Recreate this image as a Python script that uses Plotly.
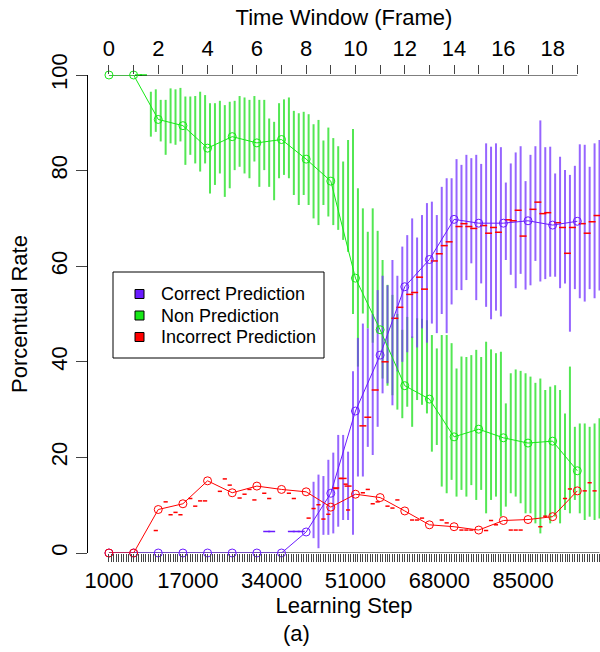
import numpy as np
import plotly.graph_objects as go

# ---------------- data ----------------
frames = list(range(20))
correct = [0, 0, 0, 0, 0, 0, 0, 0, 4.4, 12.5, 29.7, 41.4, 55.7, 61.4, 69.8, 69.0, 69.0, 69.5, 68.6, 69.4]
non_pred = [100, 100, 90.7, 89.4, 84.7, 87.1, 85.8, 86.5, 82.4, 77.8, 57.5, 46.7, 35.0, 32.2, 24.3, 25.9, 24.1, 23.0, 23.4, 17.2]
incorrect = [0, 0, 9.1, 10.3, 15.1, 12.6, 14.0, 13.3, 12.8, 9.6, 12.3, 11.6, 8.8, 5.9, 5.5, 4.8, 6.8, 7.0, 7.6, 13.0]

# spread bars of the non prediction rate (frame 1.7 .. 19.9 every 0.2 frame)
non_lo = [87.1, 88.1, 86.1, 83.3, 85.7, 85.4, 86.1, 81.2, 83.3, 81.5, 79.8, 81.5, 75.2, 77.0, 79.4, 74.5, 76.3,
          80.1, 80.8, 79.4, 78.4, 81.9, 76.6, 80.1, 76.6, 73.8, 78.4, 79.1, 78.4, 74.9, 72.8, 74.9, 72.8, 70.0,
          68.6, 72.8, 70.4, 68.6, 67.6, 65.5, 63.0, 50.0,
          39.0, 50.1, 47.0, 44.0, 46.0, 36.5, 35.0, 33.0, 30.0, 28.2, 30.6, 26.4, 32.0, 31.0, 29.2, 21.2, 22.6,
          13.9, 12.5, 15.3, 11.8, 13.2, 11.8, 14.2, 11.1, 13.2, 8.3, 11.1, 11.8, 7.6, 9.7, 12.5, 11.8, 10.4,
          8.3, 8.3, 6.2, 4.1, 7.6, 6.2, 7.6, 6.2, 9.0, 8.3, 11.1, 8.3, 6.9, 7.6, 6.9, 7.2]
non_hi = [96.5, 97.0, 94.8, 94.8, 97.2, 97.0, 97.3, 95.5, 95.5, 95.6, 96.5, 95.8, 94.1, 94.1, 94.6, 93.7, 94.4,
          94.6, 95.6, 95.3, 94.8, 95.6, 94.8, 94.8, 90.9, 90.2, 94.1, 94.9, 95.3, 92.5, 92.0, 92.3, 91.8, 89.7,
          90.6, 86.3, 89.0, 86.8, 85.1, 81.9, 86.4, 88.7,
          76.3, 72.1, 67.2, 72.1, 67.4, 61.3, 56.1, 54.0, 50.0, 46.7, 49.4, 45.3, 49.1, 49.0, 48.7, 45.6, 42.8,
          45.6, 45.6, 43.9, 38.6, 41.1, 41.0, 41.4, 42.5, 41.0, 44.2, 42.6, 41.8, 42.1, 31.3, 37.6, 38.4, 38.1,
          37.6, 36.9, 35.6, 36.5, 34.1, 34.8, 35.1, 34.1, 29.2, 39.0, 26.4, 27.1, 27.1, 26.4, 27.1, 28.2]

# spread bars of the correct prediction rate (frame 8.3 .. 19.9 every 0.2 frame)
cor_lo = [3.1, 1.0, 3.8, 3.8, 4.1, 5.5, 6.9, 6.9, 3.8, 16.0, 16.0, 22.2, 20.5, 26.4, 33.4, 35.5, 30.9, 38.0,
          40.0, 42.0, 45.0, 43.0, 47.0, 44.0, 48.0, 46.0, 50.0, 46.0, 52.0, 55.0, 55.0, 57.1, 60.6, 52.9, 56.4,
          51.5, 48.9, 50.7, 49.5, 61.3, 58.2, 55.4, 58.4, 55.1, 56.0, 61.1, 56.8, 57.3, 57.8, 57.8, 55.4, 56.4,
          46.3, 55.2, 53.3, 52.6, 55.2, 53.3, 54.9]
cor_hi = [14.9, 16.4, 16.1, 19.5, 21.0, 24.7, 24.7, 21.2, 38.0, 45.0, 48.0, 47.0, 50.0, 55.0, 58.0, 56.0, 61.3, 58.0,
          64.1, 66.5, 70.0, 66.0, 70.7, 73.2, 73.5, 70.7, 76.6, 78.4, 78.4, 82.4, 81.2, 83.3, 82.6, 83.3, 81.4,
          85.7, 85.0, 85.7, 84.9, 77.5, 81.5, 83.8, 85.1, 77.8, 83.3, 85.1, 90.5, 84.9, 85.0, 79.4, 82.9, 80.1,
          79.1, 81.0, 85.5, 85.4, 80.8, 85.7, 86.4]

# sample means drawn as short red dashes
cor_mean_x = [9.2, 9.5, 9.7, 10.3, 10.5, 10.8, 11.2, 11.6, 11.8, 12.2, 12.4, 12.6, 12.8, 13.2, 13.4, 13.6, 13.8,
              14.2, 14.4, 14.6, 14.8, 15.2, 15.4, 15.6, 15.8, 16.2, 16.4, 16.6, 16.8, 17.2, 17.4, 17.6, 17.8,
              18.2, 18.4, 18.6, 18.8, 19.2, 19.4, 19.6, 19.8]
cor_mean_y = [13.6, 15.6, 14.0, 26.6, 28.4, 34.1, 40.0, 49.1, 51.4, 54.1, 54.5, 57.7, 55.2, 61.1, 62.6, 64.3, 65.1,
              68.3, 68.9, 68.3, 67.9, 68.5, 66.9, 68.1, 67.1, 69.7, 69.5, 71.7, 66.3, 71.9, 73.4, 71.0, 71.2,
              69.1, 68.1, 62.7, 68.1, 68.9, 66.9, 69.3, 70.6]
inc_mean_x = [1.9, 2.3, 2.5, 2.7, 2.9, 3.3, 3.5, 3.7, 3.9, 4.5, 4.7, 4.9, 5.3, 5.5, 5.7, 5.9, 6.3, 6.5, 7.3, 7.5,
              8.1, 8.3, 8.5, 8.7, 8.9, 9.2, 9.4, 9.6, 9.7, 10.3, 10.5, 10.7, 10.9, 11.3, 11.5, 11.7, 12.3, 12.5,
              12.7, 13.5, 13.7, 14.3, 14.5, 14.7, 15.3, 15.5, 15.7, 16.3, 16.5, 16.7, 17.5, 17.7, 18.5, 18.7,
              19.3, 19.5, 19.7]
inc_mean_y = [4.7, 10.7, 8.0, 8.5, 8.0, 11.4, 9.8, 10.9, 10.9, 12.9, 15.5, 14.2, 11.5, 12.3, 13.3, 11.1, 12.5, 11.4,
              12.5, 11.4, 7.3, 9.3, 10.1, 7.1, 8.1, 13.5, 15.6, 14.4, 9.0, 12.6, 13.3, 10.3, 10.7, 9.8, 9.4, 11.1,
              6.9, 6.9, 7.3, 6.9, 6.3, 4.8, 4.8, 4.8, 4.7, 6.8, 5.9, 4.8, 4.8, 4.8, 5.5, 7.7, 11.4, 13.4, 13.0,
              14.7, 13.0]
cor_flat_x = [6.4, 6.6, 7.4, 7.6, 7.8]
cor_flat_y = [4.5, 4.5, 4.5, 4.5, 4.5]
non_flat_x = [1.2, 1.4]
non_flat_y = [100, 100]

series_names = ["Correct Prediction", "Non Prediction", "Incorrect Prediction"]
step_labels = [1000, 17000, 34000, 51000, 68000, 85000]
first_step, steps_per_frame = 1000, 5000

# ---------------- styles ----------------
C_COR = "#6a1bff"
C_NON = "#16e816"
C_INC = "#ff0000"
FONT = "Liberation Sans, Arial, sans-serif"

non_x = np.round(np.arange(1.7, 19.95, 0.2), 1)[:len(non_lo)]
cor_x = np.round(np.arange(8.3, 19.95, 0.2), 1)[:len(cor_lo)]


def bars(xs, lo, hi):
    bx, by = [], []
    for x, a, b in zip(xs, lo, hi):
        bx += [x, x, None]
        by += [a, b, None]
    return bx, by


fig = go.Figure()

gx, gy = bars(non_x, non_lo, non_hi)
fig.add_trace(go.Scatter(x=gx, y=gy, mode="lines", line=dict(color="rgba(40,225,40,0.8)", width=2),
                         showlegend=False, hoverinfo="skip"))
px_, py_ = bars(cor_x, cor_lo, cor_hi)
fig.add_trace(go.Scatter(x=px_, y=py_, mode="lines", line=dict(color="rgba(115,50,255,0.75)", width=2),
                         showlegend=False, hoverinfo="skip"))

dash = dict(symbol="line-ew", size=5, line=dict(width=2))
fig.add_trace(go.Scatter(x=non_flat_x, y=non_flat_y, mode="markers",
                         marker=dict(dash, color=C_NON, line=dict(width=1.5, color=C_NON)),
                         showlegend=False, cliponaxis=False))
fig.add_trace(go.Scatter(x=cor_flat_x, y=cor_flat_y, mode="markers",
                         marker=dict(dash, color=C_COR, line=dict(width=1.5, color=C_COR)),
                         showlegend=False))
fig.add_trace(go.Scatter(x=cor_mean_x, y=cor_mean_y, mode="markers",
                         marker=dict(dash, color=C_INC, line=dict(width=1.5, color=C_INC)),
                         showlegend=False))
fig.add_trace(go.Scatter(x=inc_mean_x, y=inc_mean_y, mode="markers",
                         marker=dict(symbol="line-ew", size=3, color=C_INC, line=dict(width=1.5, color=C_INC)),
                         showlegend=False))

# axis lines (R style: from first to last tick)
bottom_end = 19.9
fig.add_trace(go.Scatter(x=[0, bottom_end], y=[0, 0], mode="lines", line=dict(color="black", width=1),
                         showlegend=False, hoverinfo="skip", cliponaxis=False))
fig.add_trace(go.Scatter(x=[0, 19], y=[100, 100], mode="lines", line=dict(color="black", width=1),
                         showlegend=False, hoverinfo="skip", cliponaxis=False))

for name, vals, col in zip(series_names, [correct, non_pred, incorrect], [C_COR, C_NON, C_INC]):
    fig.add_trace(go.Scatter(x=frames, y=vals, mode="lines+markers", name=name,
                             line=dict(color=col, width=1),
                             marker=dict(symbol="circle-open", size=8, color=col, line=dict(width=1)),
                             showlegend=False, cliponaxis=False))

# bottom axis ticks (every 500 learning steps)
tick_steps = np.arange(1000, 100501, 500)
tick_frames = (tick_steps - first_step) / steps_per_frame
tick_text = [f"{s}" if s in step_labels else "" for s in tick_steps]

# legend box drawn in pixel-like paper coordinates
PW, PH, ML, MB = 512, 478, 88, 99


def px(xp):
    return (xp - ML) / PW


def py(yp):
    return (652 - MB - yp) / PH


shapes = [dict(type="rect", xref="paper", yref="paper", x0=px(113), x1=px(324), y0=py(358), y1=py(272),
               line=dict(color="black", width=1), fillcolor="white", layer="above")]
annotations = []
for i, (name, col) in enumerate(zip(series_names, [C_COR, C_NON, C_INC])):
    yc = 294 + i * 21.5
    shapes.append(dict(type="rect", xref="paper", yref="paper", x0=px(135), x1=px(144), y0=py(yc + 4.5),
                       y1=py(yc - 4.5), line=dict(color="black", width=1), fillcolor=col, layer="above"))
    annotations.append(dict(text=name, xref="paper", yref="paper", x=px(159), y=py(yc), xanchor="left",
                            yanchor="middle", showarrow=False, font=dict(size=18, family=FONT)))
annotations.append(dict(text="(a)", x=0.5, xref="paper", y=0, yref="paper", yshift=-80,
                        showarrow=False, font=dict(size=22), xanchor="center", yanchor="middle",
                        xshift=296 - 344))

fig.update_layout(
    width=600, height=652,
    margin=dict(l=ML, r=0, t=75, b=MB),
    paper_bgcolor="white", plot_bgcolor="white",
    font=dict(family=FONT, size=22, color="black"),
    showlegend=False,
    xaxis=dict(range=[-0.85, 19.92], showgrid=False, zeroline=False, showline=False, automargin=False,
               tickmode="array", tickvals=tick_frames, ticktext=tick_text,
               ticks="outside", ticklen=8, tickwidth=1, tickcolor="#444",
               tickfont=dict(size=22), tickangle=0,
               title=dict(text="Learning Step", font=dict(size=22), standoff=4)),
    xaxis2=dict(range=[-0.85, 19.92], overlaying="x", side="top", showgrid=False, zeroline=False,
                showline=False, automargin=False, tickmode="array", tickvals=frames,
                ticktext=[str(f) if f % 2 == 0 else "" for f in frames],
                ticks="outside", ticklen=9, tickwidth=1, tickcolor="#444", tickfont=dict(size=22),
                title=dict(text="Time Window (Frame)", font=dict(size=22), standoff=4)),
    yaxis=dict(range=[0, 100], showgrid=False, zeroline=False, showline=True, linecolor="black",
               linewidth=1, automargin=False, tickmode="array", tickvals=[0, 20, 40, 60, 80, 100],
               ticks="outside", ticklen=11, tickwidth=1, tickcolor="#444", tickangle=-90,
               tickfont=dict(size=22),
               title=dict(text="Porcentual Rate", font=dict(size=22), standoff=13)),
    shapes=shapes,
    annotations=annotations,
)
# dummy trace to activate the top axis
fig.add_trace(go.Scatter(x=[0], y=[None], xaxis="x2", showlegend=False, hoverinfo="skip"))

fig.write_html("out.html", config={"displayModeBar": False},
               post_script="document.body.style.margin='0';document.body.style.padding='0';")
